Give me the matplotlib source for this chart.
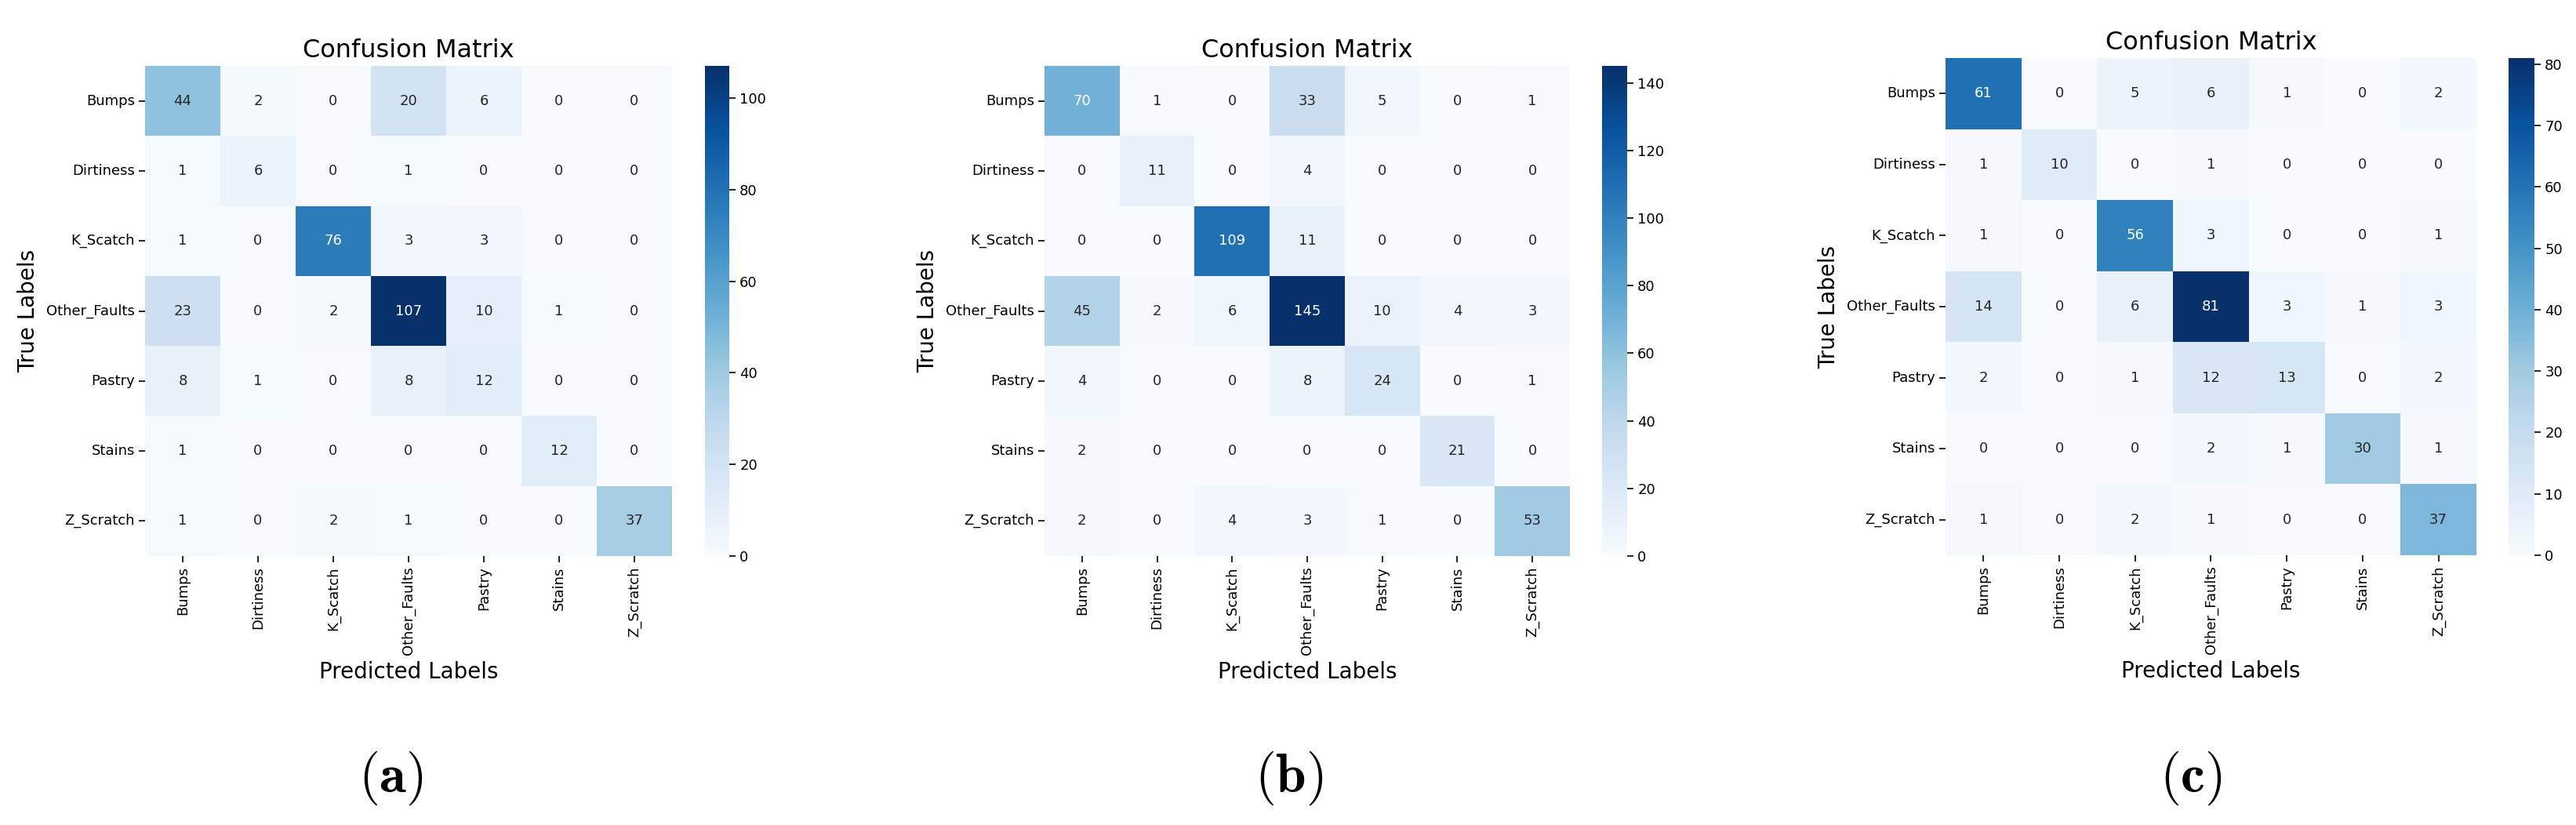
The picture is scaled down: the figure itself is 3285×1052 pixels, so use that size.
import numpy as np
import matplotlib
matplotlib.use("Agg")
import matplotlib.pyplot as plt
import seaborn as sns

labels = ["Bumps", "Dirtiness", "K_Scatch", "Other_Faults", "Pastry", "Stains", "Z_Scratch"]

cm_a = [[44, 2, 0, 20, 6, 0, 0],
        [1, 6, 0, 1, 0, 0, 0],
        [1, 0, 76, 3, 3, 0, 0],
        [23, 0, 2, 107, 10, 1, 0],
        [8, 1, 0, 8, 12, 0, 0],
        [1, 0, 0, 0, 0, 12, 0],
        [1, 0, 2, 1, 0, 0, 37]]

cm_b = [[70, 1, 0, 33, 5, 0, 1],
        [0, 11, 0, 4, 0, 0, 0],
        [0, 0, 109, 11, 0, 0, 0],
        [45, 2, 6, 145, 10, 4, 3],
        [4, 0, 0, 8, 24, 0, 1],
        [2, 0, 0, 0, 0, 21, 0],
        [2, 0, 4, 3, 1, 0, 53]]

cm_c = [[61, 0, 5, 6, 1, 0, 2],
        [1, 10, 0, 1, 0, 0, 0],
        [1, 0, 56, 3, 0, 0, 1],
        [14, 0, 6, 81, 3, 1, 3],
        [2, 0, 1, 12, 13, 0, 2],
        [0, 0, 0, 2, 1, 30, 1],
        [1, 0, 2, 1, 0, 0, 37]]

panel_tags = ["a", "b", "c"]

W, H = 3285, 1052
fig = plt.figure(figsize=(W / 100, H / 100), dpi=100)
plt.rcParams['mathtext.fontset'] = 'cm'

def px(x0, x1, y0, y1):
    # pixel box (top-left origin) -> figure fraction rect
    return [x0 / W, 1 - y1 / H, (x1 - x0) / W, (y1 - y0) / H]

# heatmap box, colorbar x-range, tag centre
layout = [
    ((185, 857, 84, 709), (899, 930), (498, 992)),
    ((1332, 2002, 84, 709), (2043, 2075), (1644, 992)),
    ((2481, 3158, 74, 708), (3199, 3232), (2794, 992)),
]

for cm, tag, (box, cbx, tagpos) in zip([cm_a, cm_b, cm_c], panel_tags, layout):
    ax = fig.add_axes(px(*box))
    cax = fig.add_axes(px(cbx[0], cbx[1], box[2], box[3]))
    sns.heatmap(np.array(cm), annot=True, fmt="d", cmap="Blues",
                xticklabels=labels, yticklabels=labels, ax=ax, cbar_ax=cax,
                annot_kws={"fontsize": 13})
    ax.set_title("Confusion Matrix", fontsize=23, pad=8)
    ax.set_xlabel("Predicted Labels", fontsize=20, labelpad=6)
    ax.set_ylabel("True Labels", fontsize=20, labelpad=6)
    ax.tick_params(axis="both", labelsize=13, length=6, width=1.2)
    plt.setp(ax.get_xticklabels(), rotation=90)
    plt.setp(ax.get_yticklabels(), rotation=0)
    cax.tick_params(labelsize=13, length=6, width=1.2)
    fig.text(tagpos[0] / W, 1 - tagpos[1] / H, r"$(\mathbf{%s})$" % tag,
             fontsize=50, ha="center", va="center")

fig.savefig("out.png", dpi=100, facecolor="white")
